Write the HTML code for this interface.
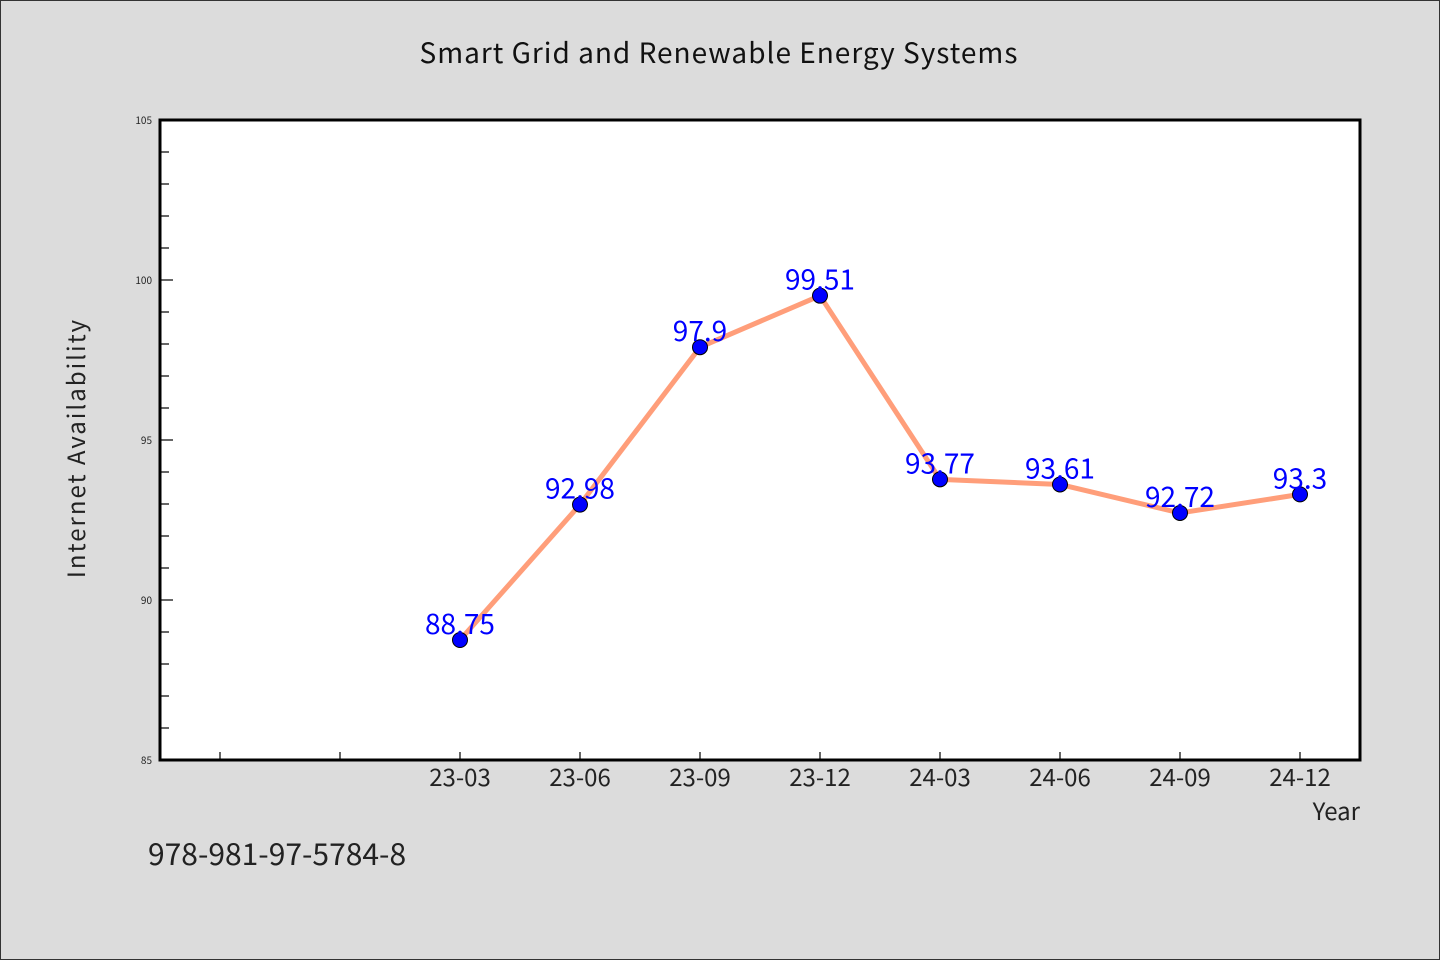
<!DOCTYPE html>
<html><head><meta charset="utf-8">
<style>
html,body{margin:0;padding:0;background:#dcdcdc;}
svg{display:block;font-family:"WenQuanYi Zen Hei","Noto Sans CJK SC",sans-serif;}
</style></head>
<body>
<svg width="1440" height="960" viewBox="0 0 1440 960">
<rect x="0.5" y="0.5" width="1439" height="959" fill="#dcdcdc" stroke="#333"/>
<text x="719" y="63" font-size="28" text-anchor="middle" fill="#111" letter-spacing="1">Smart Grid and Renewable Energy Systems</text>
<rect x="160" y="120" width="1200" height="640" fill="#fff"/>
<g id="yaxis"></g>
<g id="xaxis"></g>
<g id="series"></g>
<rect x="160" y="120" width="1200" height="640" fill="none" stroke="#000" stroke-width="3"/>
<text x="85" y="448" font-size="24" text-anchor="middle" fill="#222" letter-spacing="2" transform="rotate(-90 85 448)">Internet Availability</text>
<text x="1360" y="820" font-size="24" text-anchor="end" fill="#222">Year</text>
<text x="148" y="865" font-size="30" fill="#222">978-981-97-5784-8</text>
</svg>
<script>
const categories = ["", "", "23-03", "23-06", "23-09", "23-12", "24-03", "24-06", "24-09", "24-12"];
const values = [null, null, 88.75, 92.98, 97.9, 99.51, 93.77, 93.61, 92.72, 93.3];
const valueLabels = ["", "", "88.75", "92.98", "97.9", "99.51", "93.77", "93.61", "92.72", "93.3"];
const yTicks = [85, 90, 95, 100, 105];
const yMin = 85, yMax = 105;

const NS = "http://www.w3.org/2000/svg";
const L = 160, R = 1360, T = 120, B = 760;
const xs = i => L + (R - L) / categories.length * (i + 0.5);
const ys = v => B - (v - yMin) / (yMax - yMin) * (B - T);
function mk(tag, attrs, parent) {
  const e = document.createElementNS(NS, tag);
  for (const k in attrs) e.setAttribute(k, attrs[k]);
  parent.appendChild(e);
  return e;
}
const ya = document.getElementById("yaxis");
const xa = document.getElementById("xaxis");
const sg = document.getElementById("series");

for (let v = yMin; v <= yMax; v += 1) {
  const major = yTicks.includes(v);
  const t = mk("line", {x1: L, x2: L + (major ? 13 : 9), y1: ys(v), y2: ys(v), stroke: "#000", "stroke-width": 1.2}, ya);
  
  
}
yTicks.forEach(v => {
  const t = mk("text", {x: L - 8, y: ys(v) + 4, "font-size": 10, "text-anchor": "end", fill: "#222"}, ya);
  t.textContent = v;
  
  
});
categories.forEach((c, i) => {
  const t = mk("line", {x1: xs(i), x2: xs(i), y1: B, y2: B - 8, stroke: "#000", "stroke-width": 1.2}, xa);
  
  
  if (c) {
    const lb = mk("text", {x: xs(i), y: B + 26, "font-size": 24, "text-anchor": "middle", fill: "#222"}, xa);
    lb.textContent = c;
    
    
  }
});
const pts = [];
values.forEach((v, i) => { if (v !== null) pts.push([xs(i), ys(v), i]); });
const line = mk("polyline", {points: pts.map(p => p[0] + "," + p[1]).join(" "), fill: "none", stroke: "#ff9e7a", "stroke-width": 5, "stroke-linejoin": "round"}, sg);


pts.forEach(p => {
  const c = mk("circle", {cx: p[0], cy: p[1], r: 7.5, fill: "#0000ff", stroke: "#000", "stroke-width": 1}, sg);
  
  
  const t = mk("text", {x: p[0], y: p[1] - 6, "font-size": 28, "text-anchor": "middle", fill: "#0000ff"}, sg);
  t.textContent = valueLabels[p[2]];
  
  
});
</script>
</body></html>
